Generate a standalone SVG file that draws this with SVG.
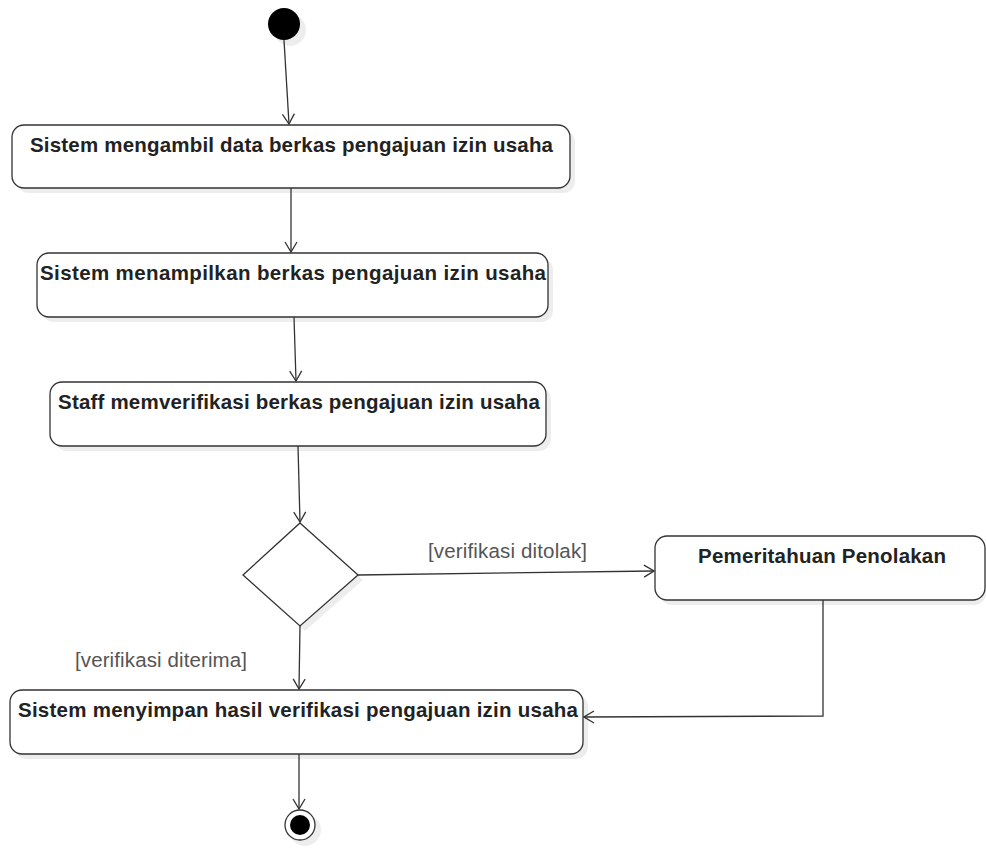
<svg xmlns="http://www.w3.org/2000/svg" width="986" height="849" viewBox="0 0 986 849">
<style>
.act{fill:#fff;stroke:#333;stroke-width:1.3}
.shd{fill:#000;opacity:0.07}
.t{font-family:"Liberation Sans",Arial,sans-serif;font-weight:bold;font-size:20.5px;fill:#222;text-anchor:middle}
.g{font-family:"Liberation Sans",Arial,sans-serif;font-size:20.5px;fill:#555;text-anchor:middle}
.c{fill:none;stroke:#333;stroke-width:1.3}
</style>
<defs>
<marker id="arr" viewBox="0 0 12 14" refX="11" refY="7" markerWidth="12" markerHeight="14" orient="auto" markerUnits="userSpaceOnUse">
<path d="M1,1 L11,7 L1,13" fill="none" stroke="#333" stroke-width="1.3"/>
</marker>
</defs>
<rect width="986" height="849" fill="#fff"/>
<g id="start">
<circle cx="290" cy="30" r="16" class="shd"/>
<circle cx="284" cy="24" r="16" fill="#000"/>
</g>
<g id="a1">
<rect x="17" y="130" width="558" height="63" rx="12" class="shd"/>
<rect x="12" y="125" width="558" height="63" rx="12" class="act"/>
<text x="291.5" y="152" class="t" textLength="523">Sistem mengambil data berkas pengajuan izin usaha</text>
</g>
<g id="a2">
<rect x="42" y="258" width="511" height="64" rx="12" class="shd"/>
<rect x="37" y="253" width="511" height="64" rx="12" class="act"/>
<text x="293" y="280" class="t" textLength="506">Sistem menampilkan berkas pengajuan izin usaha</text>
</g>
<g id="a3">
<rect x="55" y="387" width="496" height="64" rx="12" class="shd"/>
<rect x="50" y="382" width="496" height="64" rx="12" class="act"/>
<text x="299" y="409" class="t" textLength="482">Staff memverifikasi berkas pengajuan izin usaha</text>
</g>
<g id="decision">
<polygon points="305,528 363,580 305,631 248,580" class="shd"/>
<polygon points="300,523 358,575 300,626 243,575" class="act"/>
</g>
<g id="a4">
<rect x="660" y="541" width="326" height="64" rx="12" class="shd"/>
<rect x="655" y="536" width="330" height="64" rx="12" class="act"/>
<text x="822" y="563" class="t" textLength="248">Pemeritahuan Penolakan</text>
</g>
<g id="a5">
<rect x="15" y="695" width="573" height="64" rx="12" class="shd"/>
<rect x="10" y="690" width="573" height="64" rx="12" class="act"/>
<text x="298" y="717" class="t" textLength="560">Sistem menyimpan hasil verifikasi pengajuan izin usaha</text>
</g>
<g id="end">
<circle cx="305" cy="830" r="16" class="shd"/>
<circle cx="300" cy="825" r="15" fill="#fff" stroke="#333" stroke-width="1.3"/>
<circle cx="300" cy="825" r="10" fill="#000"/>
</g>
<g id="connectors">
<line x1="284" y1="40" x2="289" y2="124" class="c" marker-end="url(#arr)"/>
<line x1="291" y1="188" x2="291" y2="252" class="c" marker-end="url(#arr)"/>
<line x1="294" y1="317" x2="296" y2="381" class="c" marker-end="url(#arr)"/>
<line x1="298" y1="446" x2="300" y2="522" class="c" marker-end="url(#arr)"/>
<line x1="358" y1="575" x2="654" y2="571" class="c" marker-end="url(#arr)"/>
<line x1="300" y1="626" x2="299" y2="689" class="c" marker-end="url(#arr)"/>
<polyline points="823,600 823,716 584,717" class="c" marker-end="url(#arr)"/>
<line x1="299" y1="754" x2="299" y2="809" class="c" marker-end="url(#arr)"/>
<text x="507.5" y="558" class="g" textLength="159">[verifikasi ditolak]</text>
<text x="161" y="667" class="g" textLength="172">[verifikasi diterima]</text>
</g>
</svg>
